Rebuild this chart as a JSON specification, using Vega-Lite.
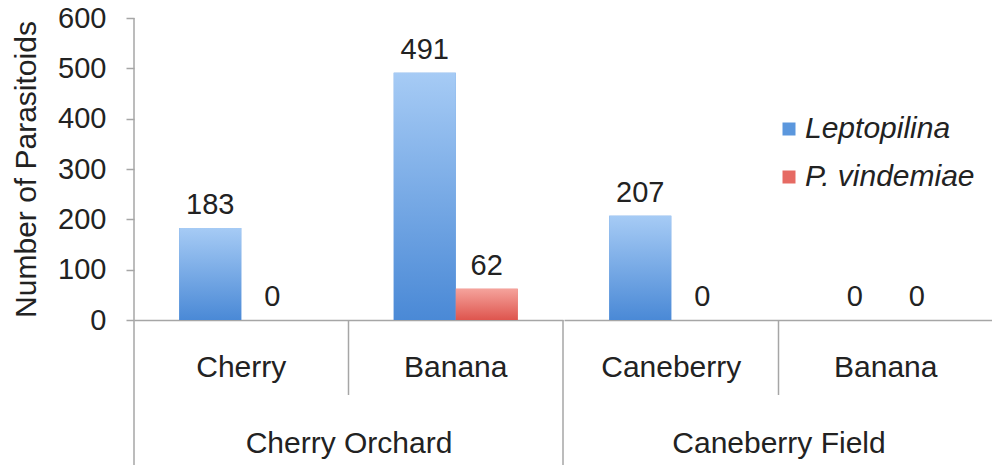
{
  "$schema": "https://vega.github.io/schema/vega-lite/v6.json",
  "padding": {"left": 11, "top": 4, "right": 0, "bottom": 0},
  "background": "white",
  "spacing": 0,
  "config": {
    "view": {"stroke": null},
    "font": "Liberation Sans",
    "axis": {
      "domainColor": "#a6a6a6",
      "tickColor": "#a6a6a6",
      "domainWidth": 1.5,
      "tickWidth": 1.5,
      "labelFont": "Liberation Sans",
      "labelFontSize": 30,
      "labelColor": "#222222",
      "titleFont": "Liberation Sans",
      "titleFontSize": 30,
      "titleFontWeight": "normal",
      "titleColor": "#222222",
      "grid": false
    },
    "legend": {
      "labelFont": "Liberation Sans",
      "labelFontSize": 30,
      "labelColor": "#222222",
      "labelFontStyle": "italic",
      "labelLimit": 400
    }
  },
  "data": {
    "values": [
      {"site": "Cherry Orchard", "crop": "Cherry", "series": "Leptopilina", "count": 183},
      {"site": "Cherry Orchard", "crop": "Cherry", "series": "P. vindemiae", "count": 0},
      {"site": "Cherry Orchard", "crop": "Banana", "series": "Leptopilina", "count": 491},
      {"site": "Cherry Orchard", "crop": "Banana", "series": "P. vindemiae", "count": 62},
      {"site": "Caneberry Field", "crop": "Caneberry", "series": "Leptopilina", "count": 207},
      {"site": "Caneberry Field", "crop": "Caneberry", "series": "P. vindemiae", "count": 0},
      {"site": "Caneberry Field", "crop": "Banana", "series": "Leptopilina", "count": 0},
      {"site": "Caneberry Field", "crop": "Banana", "series": "P. vindemiae", "count": 0}
    ]
  },
  "resolve": {"scale": {"color": "shared", "y": "shared"}},
  "hconcat": [
    {
      "width": 429,
      "height": 302,
      "transform": [{"filter": "datum.site === 'Cherry Orchard'"}],
      "encoding": {
        "x": {"field": "crop", "type": "nominal", "sort": ["Cherry", "Banana"],
          "scale": {"paddingInner": 0, "paddingOuter": 0},
          "axis": {"title": "Cherry Orchard", "ticks": false, "labelAngle": 0, "labelPadding": 32, "titlePadding": 46}},
        "xOffset": {"field": "series", "type": "nominal", "sort": ["Leptopilina", "P. vindemiae"],
          "scale": {"paddingInner": 0, "paddingOuter": 0.73}},
        "y": {"field": "count", "type": "quantitative",
          "scale": {"domain": [0, 600], "nice": false},
          "axis": {"title": "Number of Parasitoids", "values": [0, 100, 200, 300, 400, 500, 600], "domain": false, "tickSize": 8, "labelPadding": 20, "labelFontSize": 29, "titlePadding": 16}}
      },
      "layer": [
        {
          "mark": {"type": "bar"},
          "encoding": {
            "color": {"field": "series", "type": "nominal",
              "scale": {"domain": ["Leptopilina", "P. vindemiae"], "range": ["#5b97dd", "#e66a63"]},
              "legend": {"orient": "none", "legendX": 640, "legendY": 96, "title": null, "symbolType": "square", "symbolSize": 169, "symbolStrokeWidth": 0, "rowPadding": 18, "labelOffset": 1}}
          }
        },
        {
          "transform": [{"filter": "datum.series === 'Leptopilina'"}],
          "mark": {"type": "bar", "color": {"gradient": "linear", "x1": 0, "y1": 0, "x2": 0, "y2": 1, "stops": [{"offset": 0, "color": "#a6cbf5"}, {"offset": 1, "color": "#4a89d6"}]}}
        },
        {
          "transform": [{"filter": "datum.series === 'P. vindemiae'"}],
          "mark": {"type": "bar", "color": {"gradient": "linear", "x1": 0, "y1": 0, "x2": 0, "y2": 1, "stops": [{"offset": 0, "color": "#f5a39c"}, {"offset": 1, "color": "#de554e"}]}}
        },
        {
          "mark": {"type": "text", "dy": -14, "baseline": "alphabetic", "fontSize": 29, "color": "#222222", "font": "Liberation Sans"},
          "encoding": {
            "text": {"field": "count", "type": "quantitative"}
          }
        },
        {
          "transform": [{"filter": "datum.series === 'Leptopilina' && datum.crop === 'Cherry'"}],
          "mark": {"type": "rule", "color": "#a6a6a6", "strokeWidth": 1.5},
          "encoding": {
            "x": {"field": "crop", "type": "nominal", "sort": ["Cherry", "Banana"], "bandPosition": 0},
            "xOffset": null,
            "y": {"datum": 600, "type": "quantitative"},
            "y2": {"datum": -290}
          }
        },
        {
          "transform": [{"filter": "datum.series === 'Leptopilina' && datum.crop === 'Banana'"}],
          "mark": {"type": "rule", "color": "#a6a6a6", "strokeWidth": 1.5},
          "encoding": {
            "x": {"field": "crop", "type": "nominal", "sort": ["Cherry", "Banana"], "bandPosition": 1},
            "xOffset": null,
            "y": {"datum": 0, "type": "quantitative"},
            "y2": {"datum": -290}
          }
        },
        {
          "transform": [{"filter": "datum.series === 'Leptopilina' && datum.crop === 'Cherry'"}],
          "mark": {"type": "rule", "color": "#a6a6a6", "strokeWidth": 1.5},
          "encoding": {
            "x": {"field": "crop", "type": "nominal", "sort": ["Cherry", "Banana"], "bandPosition": 1},
            "xOffset": null,
            "y": {"datum": 0, "type": "quantitative"},
            "y2": {"datum": -149}
          }
        }
      ]
    },
    {
      "width": 429,
      "height": 302,
      "transform": [{"filter": "datum.site === 'Caneberry Field'"}],
      "encoding": {
        "x": {"field": "crop", "type": "nominal", "sort": ["Caneberry", "Banana"],
          "scale": {"paddingInner": 0, "paddingOuter": 0},
          "axis": {"title": "Caneberry Field", "ticks": false, "labelAngle": 0, "labelPadding": 32, "titlePadding": 46}},
        "xOffset": {"field": "series", "type": "nominal", "sort": ["Leptopilina", "P. vindemiae"],
          "scale": {"paddingInner": 0, "paddingOuter": 0.73}},
        "y": {"field": "count", "type": "quantitative",
          "scale": {"domain": [0, 600], "nice": false}, "axis": null}
      },
      "layer": [
        {
          "mark": {"type": "bar"},
          "encoding": {
            "color": {"field": "series", "type": "nominal"}
          }
        },
        {
          "transform": [{"filter": "datum.series === 'Leptopilina'"}],
          "mark": {"type": "bar", "color": {"gradient": "linear", "x1": 0, "y1": 0, "x2": 0, "y2": 1, "stops": [{"offset": 0, "color": "#a6cbf5"}, {"offset": 1, "color": "#4a89d6"}]}}
        },
        {
          "transform": [{"filter": "datum.series === 'P. vindemiae'"}],
          "mark": {"type": "bar", "color": {"gradient": "linear", "x1": 0, "y1": 0, "x2": 0, "y2": 1, "stops": [{"offset": 0, "color": "#f5a39c"}, {"offset": 1, "color": "#de554e"}]}}
        },
        {
          "mark": {"type": "text", "dy": -14, "baseline": "alphabetic", "fontSize": 29, "color": "#222222", "font": "Liberation Sans"},
          "encoding": {
            "text": {"field": "count", "type": "quantitative"}
          }
        },
        {
          "transform": [{"filter": "datum.series === 'Leptopilina' && datum.crop === 'Caneberry'"}],
          "mark": {"type": "rule", "color": "#a6a6a6", "strokeWidth": 1.5},
          "encoding": {
            "x": {"field": "crop", "type": "nominal", "sort": ["Caneberry", "Banana"], "bandPosition": 1},
            "xOffset": null,
            "y": {"datum": 0, "type": "quantitative", "axis": null},
            "y2": {"datum": -149}
          }
        }
      ]
    }
  ]
}
